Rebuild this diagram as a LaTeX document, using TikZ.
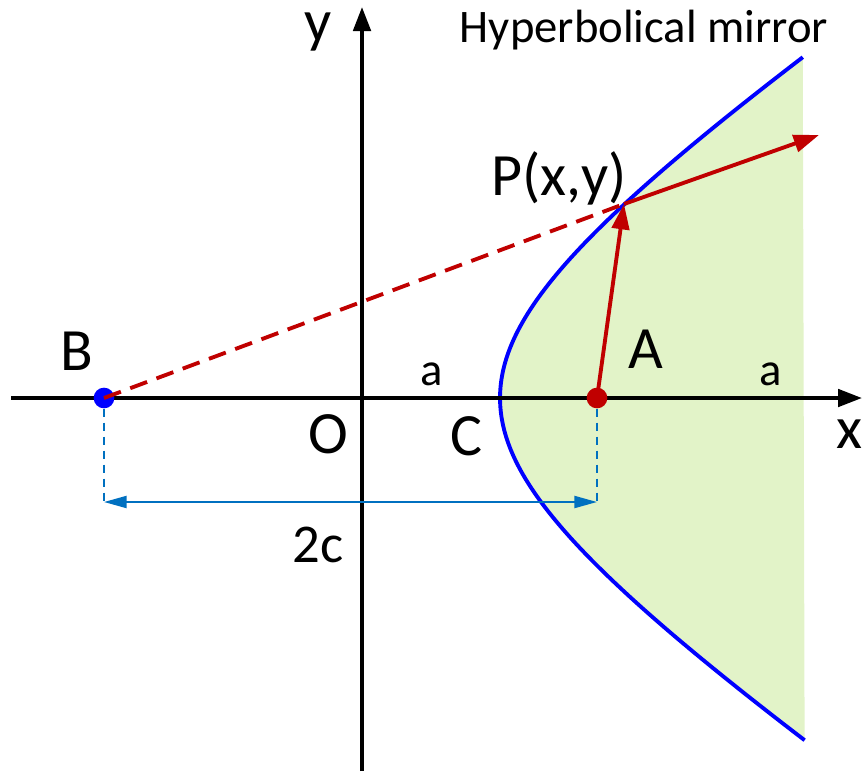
\documentclass[tikz,border=0pt]{standalone}
\usepackage{fontspec}
\setmainfont{Carlito}
\usetikzlibrary{arrows.meta}
\definecolor{mirrorfill}{RGB}{226,243,200}
\definecolor{rayred}{RGB}{192,0,0}
\definecolor{dimblue}{RGB}{0,112,192}
\begin{document}
\begin{tikzpicture}[x=0.75pt,y=-0.75pt,
  axis/.style={line width=2.9pt,-{Triangle[length=18pt,width=13pt]}},
  mirror/.style={line width=2.9pt,draw=blue},
  ray/.style={line width=2.9pt,draw=rayred,-{Triangle[length=19pt,width=13pt]}},
  dashray/.style={line width=2.9pt,draw=rayred,dash pattern=on 13.5pt off 7.5pt},
  dimline/.style={line width=1.6pt,draw=dimblue,dash pattern=on 6pt off 4.5pt},
  dimarrow/.style={line width=1.6pt,draw=dimblue,{Triangle[length=17pt,width=9pt]}-{Triangle[length=17pt,width=9pt]}},
  dot/.style={circle,inner sep=0pt,minimum size=15.5pt},
  big/.style={font=\fontsize{45}{45}\selectfont,inner sep=0pt,anchor=base},
  small/.style={font=\fontsize{35}{35}\selectfont,inner sep=0pt,anchor=base}]
\useasboundingbox (0,0) rectangle (862,771);
% mirror fill and curve
\fill[mirrorfill] plot[domain=-1.39:1.395,samples=120,variable=\t] ({232.5+267.5*cosh(\t)},{398+181*sinh(\t)}) -- cycle;
\draw[mirror] plot[domain=-1.39:1.395,samples=120,variable=\t] ({232.5+267.5*cosh(\t)},{398+181*sinh(\t)});
% axes
\coordinate (xs) at (11,398);
\coordinate (xe) at (862,398);
\coordinate (ys) at (362,771);
\coordinate (ye) at (362,7);
\draw[axis] (xs) -- (xe);
\draw[axis] (ys) -- (ye);
% points
\coordinate (P) at (624,204);
\coordinate (R) at (819,135);
\coordinate (Bd) at (104,502);
\coordinate (Ad) at (597,502);
\node[dot,fill=rayred] (A) at (597,398) {};
\node[dot,fill=blue] (B) at (104,398) {};
% rays
\draw[dashray] (B.center) -- (P);
\draw[ray] (A.center) -- (P);
\draw[ray] (P) -- (R);
% dimension
\draw[dimline] (B.south) -- (Bd);
\draw[dimline] (A.south) -- (Ad);
\draw[dimarrow] (Bd) -- (Ad);
% labels
\node[big] (lB) at (77,370) {B};
\node[big] (lO) at (328,453) {O};
\node[big] (lC) at (466,455) {C};
\node[big] (lA) at (646,368) {A};
\node[big] (lx) at (849,448) {x};
\node[big,text height=0.5em] (ly) at (318,41) {y};
\node[big] (lP) at (559,195) {P(x,y)};
\node[small] (la1) at (432,385) {a};
\node[small] (la2) at (771,385) {a};
\node[font=\fontsize{41}{41}\selectfont,inner sep=0pt,anchor=base] (l2c) at (318,562) {2c};
\node[small,text height=0.7em] (lH) at (644,42) {Hyperbolical mirror};
\end{tikzpicture}
\end{document}
